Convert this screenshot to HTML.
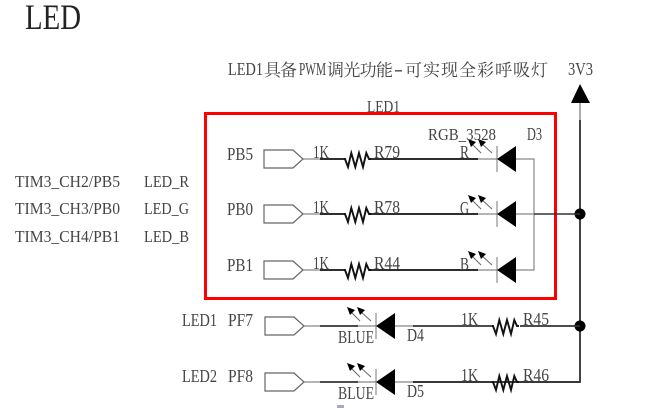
<!DOCTYPE html>
<html>
<head>
<meta charset="utf-8">
<style>
html,body{margin:0;padding:0;background:#fff;width:669px;height:408px;overflow:hidden}
svg{display:block;filter:blur(.3px)}
text{font-family:"Liberation Serif","Noto Serif CJK SC",serif;font-size:18px;fill:#444}
text.s{font-size:17px}
text.c{font-family:"Noto Serif CJK SC","Liberation Serif",serif;font-size:17px;fill:#444}
</style>
</head>
<body>
<svg width="669" height="408" viewBox="0 0 669 408" xmlns="http://www.w3.org/2000/svg">
<defs>
<g id="port"><path d="M0-9H29L39 0 29 9H0Z" fill="#fff" stroke="#666" stroke-width="1.2"/></g>
<g id="res"><path d="M0 0 1 0 4 8 7.300-6 11.300 8 15-6 19 8 22.300-6 25 0 27 0" fill="none" stroke="#111" stroke-width="1.900"/></g>
<g id="diode"><path d="M0-13V13" stroke="#777" stroke-width="1"/><path d="M0 0 19-13V13Z" fill="#000"/></g>
<g id="rays">
<path d="M13 14 3 4M24 14 13 4" stroke="#666" stroke-width="1" fill="none"/>
<path d="M0 0 8 3 3 8ZM10 0 18 3 13 8Z" fill="#000"/>
</g>
</defs>

<text x="25" y="29" textLength="56" lengthAdjust="spacingAndGlyphs" style="font-size:36px;fill:#222">LED</text>
<text x="228" y="75" textLength="35" lengthAdjust="spacingAndGlyphs">LED1</text>
<text class="c" x="264" y="76" textLength="33">具备</text>
<text x="299" y="75" textLength="27" lengthAdjust="spacingAndGlyphs">PWM</text>
<text class="c" x="327" y="76" textLength="66">调光功能</text>
<text x="394" y="75" textLength="9" lengthAdjust="spacingAndGlyphs">-</text>
<text class="c" x="405" y="76" textLength="143">可实现全彩呼吸灯</text>
<text x="568" y="75" textLength="25" lengthAdjust="spacingAndGlyphs">3V3</text>
<text class="s" x="367" y="112" textLength="33" lengthAdjust="spacingAndGlyphs">LED1</text>

<rect x="205.500" y="113.500" width="350" height="185" fill="none" stroke="#f00" stroke-width="3"/>

<!-- Power rail -->
<path d="M580 100V120" stroke="#777" stroke-width="1.200"/>
<path d="M580 120V382H413" fill="none" stroke="#222" stroke-width="1.700"/>
<path d="M580 84 590 103H571Z" fill="#000"/>
<circle cx="580" cy="214" r="5.500" fill="#000"/>
<circle cx="580" cy="326" r="5.500" fill="#000"/>

<!-- RGB rows -->
<path d="M303 159H320M303 214H320M303 270H320M478 159H497M478 214H497M478 270H497M516 159H534V270H516M516 214H534" fill="none" stroke="#888" stroke-width="1.200"/>
<path d="M320 159H345M370 159H478M320 214H345M370 214H478M320 270H345M370 270H478" fill="none" stroke="#111" stroke-width="1.800"/>
<path d="M534 214H580" stroke="#333" stroke-width="1.600"/>
<use href="#port" x="264" y="159"/><use href="#port" x="264" y="214"/><use href="#port" x="264" y="270"/>
<use href="#res" x="344" y="159"/><use href="#res" x="344" y="214"/><use href="#res" x="344" y="270"/>
<use href="#diode" x="497" y="159"/><use href="#diode" x="497" y="214"/><use href="#diode" x="497" y="270"/>
<use href="#rays" x="468" y="139"/><use href="#rays" x="468" y="195"/><use href="#rays" x="468" y="251"/>

<text x="227" y="160" textLength="26" lengthAdjust="spacingAndGlyphs">PB5</text>
<text x="227" y="215" textLength="26" lengthAdjust="spacingAndGlyphs">PB0</text>
<text x="227" y="271" textLength="26" lengthAdjust="spacingAndGlyphs">PB1</text>
<text x="313" y="158" textLength="16" lengthAdjust="spacingAndGlyphs">1K</text>
<text x="313" y="213" textLength="16" lengthAdjust="spacingAndGlyphs">1K</text>
<text x="313" y="269" textLength="16" lengthAdjust="spacingAndGlyphs">1K</text>
<text x="374" y="158" textLength="26" lengthAdjust="spacingAndGlyphs">R79</text>
<text x="374" y="213" textLength="26" lengthAdjust="spacingAndGlyphs">R78</text>
<text x="374" y="269" textLength="26" lengthAdjust="spacingAndGlyphs">R44</text>
<text class="s" x="428" y="140" textLength="68" lengthAdjust="spacingAndGlyphs">RGB_3528</text>
<text x="527" y="140" textLength="15" lengthAdjust="spacingAndGlyphs">D3</text>
<text x="460" y="158" textLength="9" lengthAdjust="spacingAndGlyphs">R</text>
<text x="460" y="214" textLength="9" lengthAdjust="spacingAndGlyphs">G</text>
<text x="460" y="270" textLength="9" lengthAdjust="spacingAndGlyphs">B</text>

<text class="s" x="15" y="187" textLength="105" lengthAdjust="spacingAndGlyphs">TIM3_CH2/PB5</text>
<text class="s" x="15" y="214" textLength="105" lengthAdjust="spacingAndGlyphs">TIM3_CH3/PB0</text>
<text class="s" x="15" y="242" textLength="105" lengthAdjust="spacingAndGlyphs">TIM3_CH4/PB1</text>
<text class="s" x="144" y="187" textLength="45" lengthAdjust="spacingAndGlyphs">LED_R</text>
<text class="s" x="144" y="214" textLength="45" lengthAdjust="spacingAndGlyphs">LED_G</text>
<text class="s" x="144" y="242" textLength="45" lengthAdjust="spacingAndGlyphs">LED_B</text>

<!-- PF rows -->
<path d="M303 326H320M358 326H376M395 326H413M303 382H320M358 382H376M395 382H413" fill="none" stroke="#888" stroke-width="1.200"/>
<path d="M320 326H358M320 382H358M413 326H492M520 326H580M413 382H492M520 382H580" fill="none" stroke="#333" stroke-width="1.700"/>
<use href="#port" x="265" y="326"/><use href="#port" x="265" y="382"/>
<use href="#diode" x="376" y="326"/><use href="#diode" x="376" y="382"/>
<use href="#rays" x="347" y="307"/><use href="#rays" x="347" y="363"/>
<use href="#res" x="492" y="326"/><use href="#res" x="492" y="382"/>

<text x="182" y="326" textLength="35" lengthAdjust="spacingAndGlyphs">LED1</text>
<text x="228" y="326" textLength="25" lengthAdjust="spacingAndGlyphs">PF7</text>
<text x="182" y="382" textLength="35" lengthAdjust="spacingAndGlyphs">LED2</text>
<text x="228" y="382" textLength="25" lengthAdjust="spacingAndGlyphs">PF8</text>
<text x="338" y="343" textLength="36" lengthAdjust="spacingAndGlyphs">BLUE</text>
<text x="338" y="399" textLength="36" lengthAdjust="spacingAndGlyphs">BLUE</text>
<text x="407" y="341" textLength="17" lengthAdjust="spacingAndGlyphs">D4</text>
<text x="407" y="397" textLength="17" lengthAdjust="spacingAndGlyphs">D5</text>
<text x="461" y="325" textLength="17" lengthAdjust="spacingAndGlyphs">1K</text>
<text x="461" y="381" textLength="17" lengthAdjust="spacingAndGlyphs">1K</text>
<text x="523" y="325" textLength="26" lengthAdjust="spacingAndGlyphs">R45</text>
<text x="523" y="381" textLength="26" lengthAdjust="spacingAndGlyphs">R46</text>

<rect x="337" y="405" width="7" height="3" fill="#aab"/>
</svg>
</body>
</html>
